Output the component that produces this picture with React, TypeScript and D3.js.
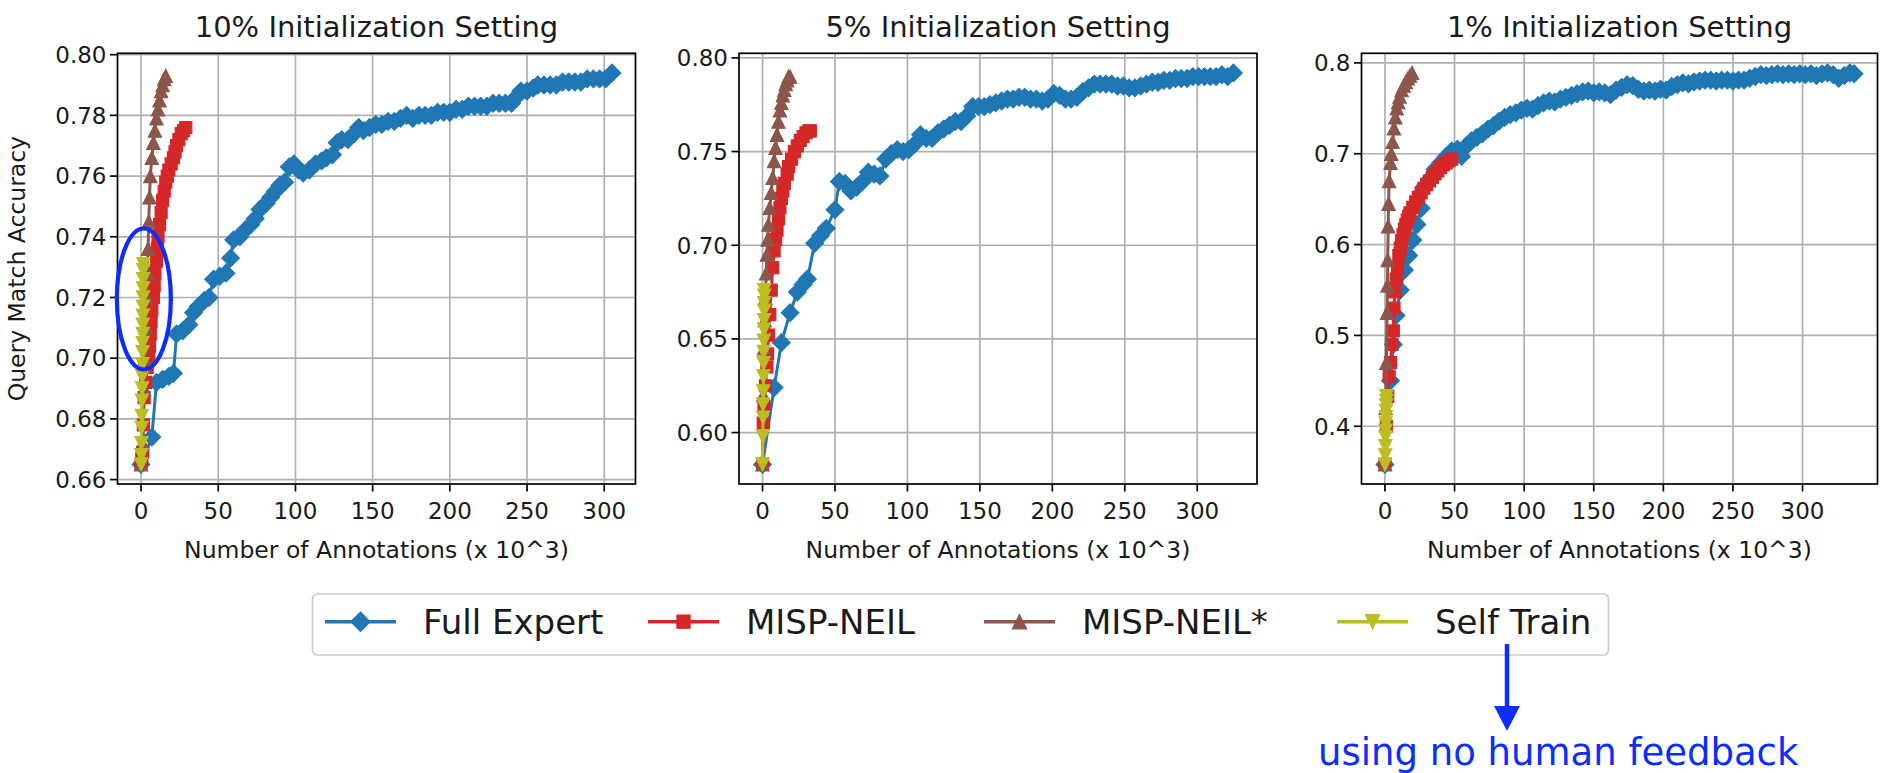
import React from 'react';
import * as d3 from 'd3';

type Pt = [number, number];

const seriesNames = ['Full Expert', 'MISP-NEIL', 'MISP-NEIL*', 'Self Train'];
const seriesColors = ['#1f77b4', '#d62728', '#8c564b', '#bcbd22'];
const seriesMarkers = ['diamond', 'square', 'triUp', 'triDown'];

const panelTitles = ['10% Initialization Setting', '5% Initialization Setting', '1% Initialization Setting'];
const xTickValues = [0, 50, 100, 150, 200, 250, 300];
const yTicks10 = [0.66, 0.68, 0.7, 0.72, 0.74, 0.76, 0.78, 0.8];
const yTicks5 = [0.6, 0.65, 0.7, 0.75, 0.8];
const yTicks1 = [0.4, 0.5, 0.6, 0.7, 0.8];
const xLabel = 'Number of Annotations (x 10^3)';
const yLabel = 'Query Match Accuracy';
const noteText = 'using no human feedback';

// ---------- 10% setting ----------
const fullExpert10: Pt[] = [
  [0, 0.665], [7, 0.674], [10, 0.692], [14, 0.693], [18, 0.694], [21, 0.695], [23, 0.708], [27, 0.709],
  [31, 0.711], [34, 0.715], [37, 0.717], [41, 0.719], [44, 0.72], [47, 0.726], [51, 0.727], [55, 0.728],
  [58, 0.733], [60, 0.739], [64, 0.74], [67, 0.742], [71, 0.744], [74, 0.746], [77, 0.749], [81, 0.751],
  [84, 0.753], [87, 0.755], [90, 0.757], [93, 0.758], [96, 0.763], [99, 0.764], [102, 0.762], [105, 0.761],
  [109, 0.762], [113, 0.764], [117, 0.765], [120, 0.766], [124, 0.767], [127, 0.771], [130, 0.772], [134, 0.772],
  [138, 0.774], [141, 0.776], [144, 0.775], [148, 0.776], [152, 0.777], [156, 0.777], [160, 0.778], [164, 0.778],
  [168, 0.779], [172, 0.78], [176, 0.779], [180, 0.78], [184, 0.78], [188, 0.78], [192, 0.781], [196, 0.781],
  [200, 0.781], [204, 0.782], [208, 0.782], [212, 0.783], [216, 0.783], [220, 0.783], [224, 0.783], [228, 0.784],
  [232, 0.784], [236, 0.784], [240, 0.784], [243, 0.786], [246, 0.788], [250, 0.788], [254, 0.789], [257, 0.79],
  [261, 0.79], [265, 0.79], [269, 0.79], [273, 0.791], [277, 0.791], [281, 0.791], [285, 0.791], [289, 0.792],
  [293, 0.792], [297, 0.792], [301, 0.792], [305, 0.794],
];
const mispNeil10: Pt[] = [
  [0, 0.665], [0.5, 0.667], [1, 0.669], [1.5, 0.678], [2, 0.687], [3, 0.692], [4, 0.697], [5, 0.7],
  [5.5, 0.704], [6, 0.708], [6.5, 0.712], [7, 0.716], [8, 0.72], [8.5, 0.724], [9, 0.728], [10, 0.732],
  [10.5, 0.736], [11, 0.74], [12, 0.744], [13, 0.748], [14, 0.752], [15, 0.755], [16, 0.758], [17, 0.76],
  [18, 0.762], [19.5, 0.764], [21, 0.766], [22, 0.768], [23, 0.77], [24.5, 0.772], [26, 0.774], [27.5, 0.775],
  [29, 0.776],
];
const mispNeilStar10: Pt[] = [
  [0, 0.665], [1, 0.672], [2, 0.69], [2.5, 0.7], [3, 0.71], [3.5, 0.72], [4, 0.728], [4.5, 0.736],
  [5, 0.745], [5.5, 0.753], [6, 0.76], [7, 0.766], [8, 0.771], [9, 0.775], [10, 0.779], [11, 0.782],
  [12, 0.785], [13, 0.788], [14, 0.79], [15, 0.792], [16, 0.793],
];
const selfTrain10: Pt[] = [
  [0, 0.665], [0.2, 0.668], [0.3, 0.672], [0.4, 0.677], [0.5, 0.681], [0.6, 0.686], [0.7, 0.69], [0.8, 0.694],
  [0.9, 0.698], [1, 0.702], [1, 0.705], [1.1, 0.708], [1.1, 0.711], [1.2, 0.714], [1.2, 0.717], [1.3, 0.72],
  [1.3, 0.723], [1.4, 0.726], [1.4, 0.729], [1.5, 0.731],
];

// ---------- 5% setting ----------
const fullExpert5: Pt[] = [
  [0, 0.583], [8, 0.624], [13, 0.648], [19, 0.664], [24, 0.675], [28, 0.679], [31, 0.682], [36, 0.701],
  [40, 0.705], [44, 0.709], [50, 0.719], [53, 0.734], [57, 0.733], [61, 0.729], [65, 0.731], [69, 0.734],
  [73, 0.739], [77, 0.738], [81, 0.737], [85, 0.746], [89, 0.749], [93, 0.751], [97, 0.75], [101, 0.751],
  [105, 0.754], [109, 0.759], [113, 0.757], [117, 0.757], [121, 0.76], [125, 0.762], [129, 0.764], [133, 0.766],
  [137, 0.766], [141, 0.769], [145, 0.774], [149, 0.774], [153, 0.774], [157, 0.775], [161, 0.776], [165, 0.777],
  [169, 0.778], [173, 0.778], [177, 0.779], [181, 0.779], [185, 0.778], [189, 0.778], [193, 0.777], [197, 0.778],
  [201, 0.781], [205, 0.78], [209, 0.778], [213, 0.778], [217, 0.779], [221, 0.782], [225, 0.784], [229, 0.786],
  [233, 0.786], [237, 0.786], [241, 0.786], [245, 0.785], [249, 0.785], [253, 0.784], [257, 0.784], [261, 0.785],
  [265, 0.786], [269, 0.787], [273, 0.787], [277, 0.788], [281, 0.788], [285, 0.789], [289, 0.789], [293, 0.789],
  [297, 0.79], [301, 0.79], [305, 0.79], [309, 0.79], [313, 0.79], [317, 0.791], [321, 0.79], [325, 0.792],
];
const mispNeil5: Pt[] = [
  [0, 0.583], [0.5, 0.605], [1, 0.614], [2, 0.625], [3, 0.635], [3.5, 0.642], [4, 0.652], [5, 0.663],
  [6, 0.676], [7, 0.688], [8, 0.697], [9, 0.703], [10, 0.708], [11, 0.714], [12, 0.72], [13, 0.725],
  [14, 0.729], [15, 0.733], [17, 0.738], [18, 0.742], [20, 0.746], [22, 0.75], [24, 0.753], [26, 0.756],
  [28, 0.758], [30, 0.76], [32, 0.761], [33, 0.761],
];
const mispNeilStar5: Pt[] = [
  [0, 0.583], [0.5, 0.62], [1, 0.645], [1.5, 0.66], [2, 0.672], [2.5, 0.685], [3, 0.695], [3.5, 0.703],
  [4, 0.711], [5, 0.72], [6, 0.728], [7, 0.736], [8, 0.745], [9, 0.752], [10, 0.759], [11, 0.766],
  [12, 0.772], [13, 0.776], [14, 0.78], [15, 0.783], [16, 0.786], [17, 0.788], [18, 0.79], [19, 0.79],
];
const selfTrain5: Pt[] = [
  [0, 0.583], [0.2, 0.598], [0.3, 0.608], [0.4, 0.615], [0.5, 0.622], [0.6, 0.63], [0.7, 0.637], [0.8, 0.643],
  [0.9, 0.649], [1, 0.655], [1, 0.66], [1.1, 0.665], [1.1, 0.669], [1.2, 0.673], [1.2, 0.676],
];

// ---------- 1% setting ----------
const fullExpert1: Pt[] = [
  [0, 0.358], [4, 0.45], [6, 0.49], [8, 0.522], [11, 0.55], [14, 0.572], [17, 0.588], [20, 0.605],
  [23, 0.622], [26, 0.64], [29, 0.665], [32, 0.672], [36, 0.683], [40, 0.69], [44, 0.697], [48, 0.703],
  [52, 0.705], [55, 0.697], [58, 0.708], [62, 0.714], [66, 0.718], [70, 0.722], [74, 0.727], [78, 0.731],
  [82, 0.736], [86, 0.74], [90, 0.743], [94, 0.745], [98, 0.748], [102, 0.75], [106, 0.749], [110, 0.753],
  [114, 0.756], [118, 0.758], [122, 0.757], [126, 0.76], [130, 0.762], [134, 0.764], [138, 0.766], [142, 0.768],
  [146, 0.769], [150, 0.767], [154, 0.768], [158, 0.767], [162, 0.765], [166, 0.77], [170, 0.773], [174, 0.776],
  [178, 0.775], [182, 0.771], [186, 0.769], [190, 0.77], [194, 0.769], [198, 0.771], [202, 0.77], [206, 0.774],
  [210, 0.776], [214, 0.778], [218, 0.777], [222, 0.779], [226, 0.78], [230, 0.781], [234, 0.781], [238, 0.78],
  [242, 0.781], [246, 0.781], [250, 0.78], [254, 0.781], [258, 0.781], [262, 0.783], [266, 0.785], [270, 0.787],
  [274, 0.786], [278, 0.787], [282, 0.788], [286, 0.787], [290, 0.788], [294, 0.787], [298, 0.788], [302, 0.787],
  [306, 0.788], [310, 0.786], [314, 0.788], [318, 0.789], [322, 0.787], [326, 0.783], [330, 0.786], [334, 0.789],
  [337, 0.788],
];
const mispNeil1: Pt[] = [
  [0, 0.358], [1, 0.4], [2, 0.433], [3, 0.455], [4, 0.47], [5, 0.49], [6, 0.505], [6.5, 0.53],
  [7, 0.548], [8, 0.562], [9, 0.575], [10, 0.588], [11, 0.596], [12, 0.604], [13, 0.611], [14, 0.617],
  [15, 0.622], [16, 0.627], [17, 0.631], [18, 0.635], [20, 0.641], [22, 0.647], [24, 0.652], [26, 0.657],
  [28, 0.662], [30, 0.666], [32, 0.67], [34, 0.674], [36, 0.678], [38, 0.681], [40, 0.685], [42, 0.688],
  [44, 0.69], [46, 0.692], [48, 0.694],
];
const mispNeilStar1: Pt[] = [
  [0, 0.358], [0.5, 0.42], [1, 0.47], [1.5, 0.525], [1.8, 0.555], [2, 0.583], [2.3, 0.62], [2.6, 0.645],
  [3, 0.67], [4, 0.69], [4.5, 0.7], [5.5, 0.713], [6.5, 0.728], [7.5, 0.74], [8.5, 0.75], [9.5, 0.757],
  [10.5, 0.763], [12, 0.77], [13.5, 0.775], [15, 0.779], [16.5, 0.783], [18, 0.786], [19.5, 0.789],
];
const selfTrain1: Pt[] = [
  [0, 0.358], [0.2, 0.368], [0.3, 0.378], [0.4, 0.388], [0.5, 0.395], [0.6, 0.403], [0.7, 0.41], [0.8, 0.417],
  [0.9, 0.423], [1, 0.428], [1.1, 0.433],
];

const panelSeries: Pt[][][] = [
  [fullExpert10, mispNeil10, mispNeilStar10, selfTrain10],
  [fullExpert5, mispNeil5, mispNeilStar5, selfTrain5],
  [fullExpert1, mispNeil1, mispNeilStar1, selfTrain1],
];
const panelYTicks = [yTicks10, yTicks5, yTicks1];
const panelYFormat = ['.2f', '.2f', '.1f'];

// ---------- layout ----------
const W = 1880;
const H = 773;
const FONT = 'DejaVu Sans';
const panelLeft = [117.5, 739, 1361.5];
const panelWidth = [518, 518, 516];
const plotTop = 53.3;
const plotBottom = 484;
const NOTE_BLUE = '#0b2dff';

function markerPath(kind: string): string {
  if (kind === 'diamond') { const s = 8.8; return `M0,${-s}L${s},0L0,${s}L${-s},0Z`; }
  if (kind === 'square') { const s = 6; return `M${-s},${-s}h${2 * s}v${2 * s}h${-2 * s}Z`; }
  if (kind === 'triUp') { const s = 6.6; return `M0,${-s}L${s},${s}L${-s},${s}Z`; }
  const s = 6.6; return `M0,${s}L${s},${-s}L${-s},${-s}Z`;
}

function padDomain(vals: number[]): [number, number] {
  const lo = d3.min(vals) as number;
  const hi = d3.max(vals) as number;
  const m = (hi - lo) * 0.05;
  return [lo - m, hi + m];
}

function Panel({ idx }: { idx: number }) {
  const series = panelSeries[idx];
  const all = series.flat();
  const left = panelLeft[idx];
  const right = left + panelWidth[idx];
  const x = d3.scaleLinear().domain(padDomain(all.map(p => p[0]))).range([left, right]);
  const y = d3.scaleLinear().domain(padDomain(all.map(p => p[1]))).range([plotBottom, plotTop]);
  const line = d3.line<Pt>().x(p => x(p[0])).y(p => y(p[1]));
  const fmt = d3.format(panelYFormat[idx]);
  const clipId = `clip${idx}`;
  const cx = (left + right) / 2;
  return (
    <g>
      <defs>
        <clipPath id={clipId}>
          <rect x={left} y={plotTop} width={right - left} height={plotBottom - plotTop} />
        </clipPath>
      </defs>
      {xTickValues.map(t => (
        <line key={'gx' + t} x1={x(t)} x2={x(t)} y1={plotTop} y2={plotBottom} stroke="#b0b0b0" strokeWidth={1.7} />
      ))}
      {panelYTicks[idx].map(t => (
        <line key={'gy' + t} x1={left} x2={right} y1={y(t)} y2={y(t)} stroke="#b0b0b0" strokeWidth={1.7} />
      ))}
      <g clipPath={`url(#${clipId})`}>
        {series.map((s, si) => (
          <g key={si}>
            <path d={line(s) || ''} fill="none" stroke={seriesColors[si]} strokeWidth={3} strokeLinejoin="round" />
            {s.map((p, pi) => (
              <path key={pi} d={markerPath(seriesMarkers[si])} transform={`translate(${x(p[0])},${y(p[1])})`}
                fill={seriesColors[si]} stroke={seriesColors[si]} strokeWidth={1.2} />
            ))}
          </g>
        ))}
      </g>
      <rect x={left} y={plotTop} width={right - left} height={plotBottom - plotTop} fill="none" stroke="#000" strokeWidth={1.7} />
      {xTickValues.map(t => (
        <g key={'xt' + t}>
          <line x1={x(t)} x2={x(t)} y1={plotBottom} y2={plotBottom + 7.5} stroke="#000" strokeWidth={1.7} />
          <text x={x(t)} y={plotBottom + 35} textAnchor="middle" fontFamily={FONT} fontSize={23} fill="#1a1a1a">{t}</text>
        </g>
      ))}
      {panelYTicks[idx].map(t => (
        <g key={'yt' + t}>
          <line x1={left - 7.5} x2={left} y1={y(t)} y2={y(t)} stroke="#000" strokeWidth={1.7} />
          <text x={left - 11} y={y(t)} dy="0.36em" textAnchor="end" fontFamily={FONT} fontSize={23} fill="#1a1a1a">{fmt(t)}</text>
        </g>
      ))}
      <text x={cx} y={37} textAnchor="middle" fontFamily={FONT} fontSize={29} fill="#1a1a1a">{panelTitles[idx]}</text>
      <text x={cx} y={558} textAnchor="middle" fontFamily={FONT} fontSize={23.5} fill="#1a1a1a">{xLabel}</text>
      {idx === 0 && (
        <text transform={`translate(25,${(plotTop + plotBottom) / 2}) rotate(-90)`} textAnchor="middle" fontFamily={FONT} fontSize={23.5} fill="#1a1a1a">{yLabel}</text>
      )}
    </g>
  );
}

const legendHandleX = [325, 648, 984, 1337];

function Legend() {
  const cy = 621.7;
  return (
    <g>
      <rect x={312.5} y={594} width={1296} height={61} rx={5} fill="#fff" fillOpacity={0.8} stroke="#cccccc" strokeWidth={1.7} />
      {seriesNames.map((n, i) => {
        const hx = legendHandleX[i];
        return (
          <g key={n}>
            <line x1={hx} x2={hx + 71} y1={cy} y2={cy} stroke={seriesColors[i]} strokeWidth={3.5} />
            <path d={markerPath(seriesMarkers[i])} transform={`translate(${hx + 35.5},${cy}) scale(1.1)`} fill={seriesColors[i]} stroke={seriesColors[i]} strokeWidth={1} />
            <text x={hx + 98} y={cy} dy="0.36em" fontFamily={FONT} fontSize={34} fill="#1a1a1a">{n}</text>
          </g>
        );
      })}
    </g>
  );
}

function Annotations() {
  const x = d3.scaleLinear().domain(padDomain(panelSeries[0].flat().map(p => p[0]))).range([panelLeft[0], panelLeft[0] + panelWidth[0]]);
  const y = d3.scaleLinear().domain(padDomain(panelSeries[0].flat().map(p => p[1]))).range([plotBottom, plotTop]);
  const ecx = x(0) + 2.8;
  const ecy = y(0.7195);
  return (
    <g>
      <ellipse cx={ecx} cy={ecy} rx={27} ry={70.5} fill="none" stroke={NOTE_BLUE} strokeWidth={4.2} />
      <line x1={1507} x2={1507} y1={644} y2={710} stroke={NOTE_BLUE} strokeWidth={4.5} />
      <path d="M1494,706L1520,706L1507,731Z" fill={NOTE_BLUE} />
      <text x={1318} y={765} fontFamily={FONT} fontSize={37} fill={NOTE_BLUE}>{noteText}</text>
    </g>
  );
}

export default function App() {
  return (
    <svg width={W} height={H} viewBox={`0 0 ${W} ${H}`} style={{ position: 'absolute', left: 0, top: 0, background: '#fff' }}>
      <rect x={0} y={0} width={W} height={H} fill="#fff" />
      {[0, 1, 2].map(i => <Panel key={i} idx={i} />)}
      <Legend />
      <Annotations />
    </svg>
  );
}
